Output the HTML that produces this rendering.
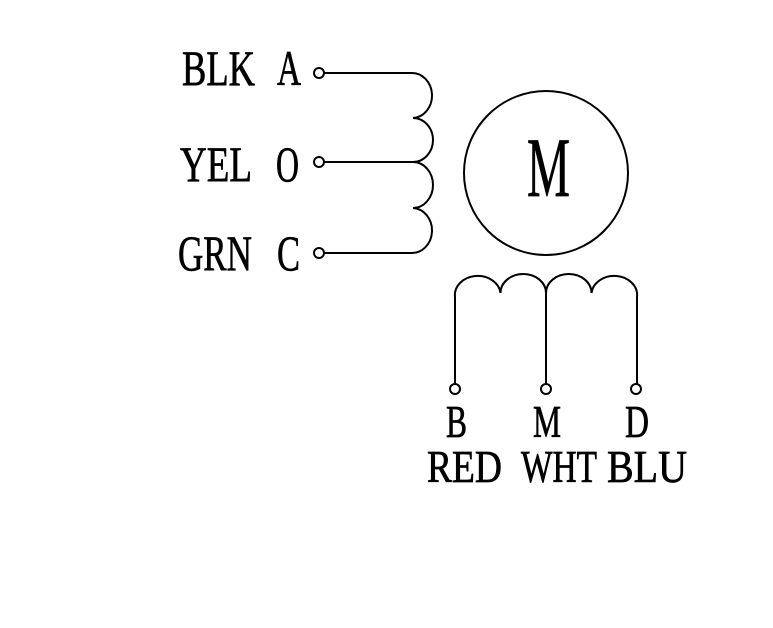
<!DOCTYPE html>
<html><head><meta charset="utf-8"><style>
html,body{margin:0;padding:0;background:#fff;}
svg{display:block;}
text{font-family:"Liberation Serif",serif;fill:#000;stroke:#000;stroke-width:0.7;}
</style></head><body>
<svg width="773" height="628" viewBox="0 0 773 628" xmlns="http://www.w3.org/2000/svg">
<g fill="none" stroke="#000" stroke-width="2">
  <circle cx="546" cy="173" r="82"/>
  <path d="M324 73 H411 A20 22.5 0 0 1 413 118 A20 22 0 0 1 413 162 A20 23 0 0 1 413 208 A20 22.5 0 0 1 411 253 H324"/>
  <line x1="324" y1="162" x2="413" y2="162"/>
  <circle cx="319" cy="73" r="5"/>
  <circle cx="319" cy="162" r="5"/>
  <circle cx="319" cy="253" r="5"/>
  <path d="M455 384 V297 A22.75 19 0 0 1 500.5 293 A22.75 19 0 0 1 546 293 A22.75 19 0 0 1 591.5 293 A22.75 19 0 0 1 637 297 V384"/>
  <line x1="546" y1="293" x2="546" y2="384"/>
  <circle cx="455" cy="389" r="5"/>
  <circle cx="546" cy="389" r="5"/>
  <circle cx="636" cy="389" r="5"/>
</g>
<text x="527" y="196" font-size="85" textLength="43" lengthAdjust="spacingAndGlyphs">M</text>

<text x="182" y="85" font-size="50" textLength="73" lengthAdjust="spacingAndGlyphs">BLK</text>
<text x="277" y="85" font-size="50" textLength="24" lengthAdjust="spacingAndGlyphs">A</text>
<text x="180" y="181" font-size="50" textLength="72" lengthAdjust="spacingAndGlyphs">YEL</text>
<text x="276" y="181" font-size="50" textLength="23" lengthAdjust="spacingAndGlyphs">O</text>
<text x="178" y="270" font-size="50" textLength="74" lengthAdjust="spacingAndGlyphs">GRN</text>
<text x="277" y="270" font-size="50" textLength="23" lengthAdjust="spacingAndGlyphs">C</text>

<text x="446" y="437" font-size="45" textLength="21" lengthAdjust="spacingAndGlyphs">B</text>
<text x="533" y="437" font-size="45" textLength="28" lengthAdjust="spacingAndGlyphs">M</text>
<text x="625" y="437" font-size="45" textLength="24" lengthAdjust="spacingAndGlyphs">D</text>
<text x="427" y="482" font-size="45" textLength="75" lengthAdjust="spacingAndGlyphs">RED</text>
<text x="521" y="482" font-size="45" textLength="76" lengthAdjust="spacingAndGlyphs">WHT</text>
<text x="607" y="482" font-size="45" textLength="80" lengthAdjust="spacingAndGlyphs">BLU</text>
</svg>
</body></html>
